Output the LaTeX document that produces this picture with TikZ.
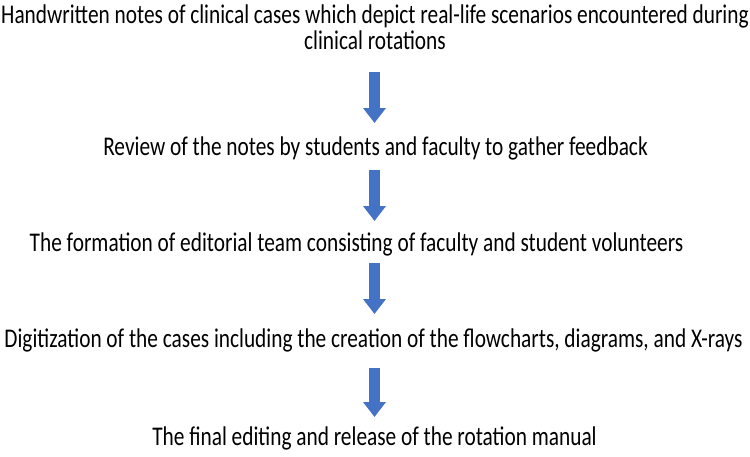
\documentclass[tikz,border=0pt]{standalone}
\usepackage{fontspec}
\setmainfont[FakeStretch=0.79]{Carlito}
\usepackage{xcolor}
\usepackage{tikz}
\usetikzlibrary{positioning, arrows.meta}

\definecolor{stepblue}{HTML}{4472C4}

\tikzset{
  steptext/.style={anchor=base, inner sep=0pt, align=center, font=\fontsize{27}{26.5}\selectfont},
  fatarrow/.style={line width=11pt, stepblue, -{Triangle[width=22pt, length=15pt]}}
}

\begin{document}
\begin{tikzpicture}[x=1pt, y=-1pt]
          \useasboundingbox (0,0) rectangle (750,456);
          \node[steptext] (notes) at (375,49.5) {Handwritten notes of clinical cases which depict real-life scenarios encountered during\\clinical rotations};
          \node[steptext] (review) at (375.5,155.5) {Review of the notes by students and faculty to gather feedback};
          \node[steptext] (team) at (356.5,251.5) {The formation of editorial team consisting of faculty and student volunteers};
          \node[steptext] (digit) at (373.5,347) {Digitization of the cases including the creation of the flowcharts, diagrams, and X-rays};
          \node[steptext] (release) at (374.5,445) {The final editing and release of the rotation manual};
          % arrows between the steps
          \foreach \n/\top/\tip in {1/72/123, 2/170/221, 3/263/314, 4/368/417} {
            \coordinate (s\n) at (374.5,\top);
            \coordinate (e\n) at (374.5,\tip);
            \draw[fatarrow] (s\n) -- (e\n);
          }
        \end{tikzpicture}
\end{document}
